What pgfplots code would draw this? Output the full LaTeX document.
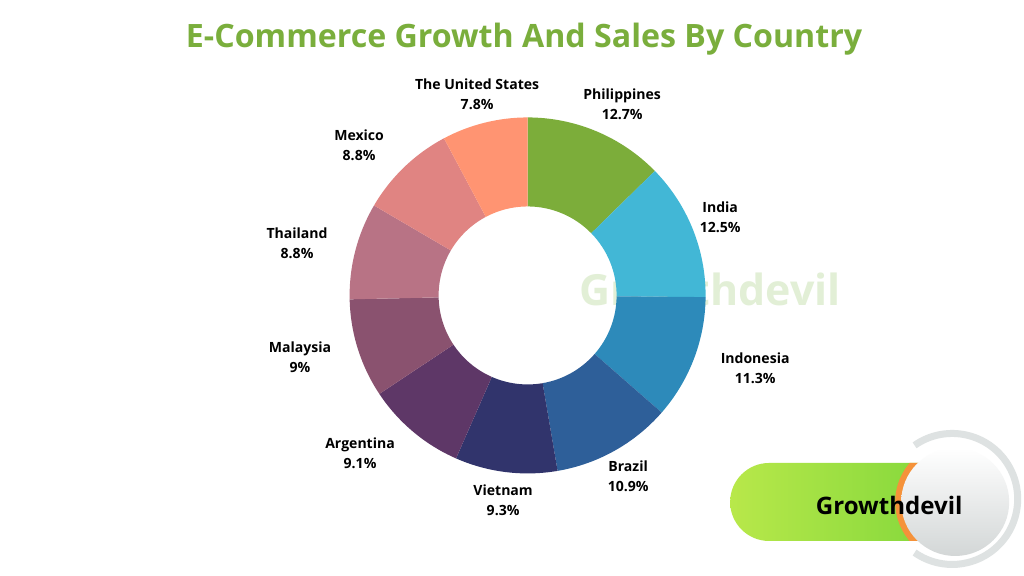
\documentclass[border=0pt]{standalone}
\usepackage{pgfplots}
\pgfplotsset{compat=1.18}
\usepackage{pgfplotstable}
\usepackage{fontspec}
\setmainfont{Open Sans}

\definecolor{slice0}{HTML}{7CAD3A}
\definecolor{slice1}{HTML}{42B7D6}
\definecolor{slice2}{HTML}{2D8ABA}
\definecolor{slice3}{HTML}{2E5F99}
\definecolor{slice4}{HTML}{31346C}
\definecolor{slice5}{HTML}{5E3767}
\definecolor{slice6}{HTML}{8A526F}
\definecolor{slice7}{HTML}{B87385}
\definecolor{slice8}{HTML}{E08482}
\definecolor{slice9}{HTML}{FF9472}
\definecolor{titlegreen}{HTML}{7AAE3C}
\definecolor{wmgreen}{HTML}{E2EFD6}
\definecolor{pillA}{HTML}{B8E84A}
\definecolor{pillB}{HTML}{7ED63A}
\definecolor{ringgrey}{HTML}{DEE2E2}
\definecolor{badgeorange}{HTML}{F5923A}

% share of e-commerce growth, clockwise from 12 o'clock
\pgfplotstableread[col sep=comma]{
country,value,lx,ly
Philippines,12.7,622,104
India,12.5,720,217
Indonesia,11.3,755,368
Brazil,10.9,628,476
Vietnam,9.3,503,500
Argentina,9.1,360,453
Malaysia,9,300,357
Thailand,8.8,297,243
Mexico,8.8,359,145
The United States,7.8,477,94
}\piedata

\tikzset{lbl/.style={align=center, inner sep=0pt,
  font=\bfseries\fontsize{8}{11.4}\selectfont}}

\begin{document}
\begin{tikzpicture}
\useasboundingbox (0,0) rectangle (20.48cm,11.52cm);
\fill[white] (0,0) rectangle (20.48cm,11.52cm);

% watermark behind the ring
\begin{scope}[x=0.02cm,y=0.02cm]
\node[wmgreen, font=\bfseries\fontsize{24.4}{30}\selectfont, inner sep=0pt]
  at (710,{576-289}) {Growthdevil};
\end{scope}

\begin{axis}[
  x=0.02cm, y=0.02cm,
  xmin=0, xmax=1024, ymin=0, ymax=576,
  enlargelimits=false,
  at={(0,0)}, anchor=south west,
  hide axis, clip=false,
]
\pgfplotstablegetrowsof{\piedata}\pgfmathtruncatemacro{\nlast}{\pgfplotsretval-1}
\def\total{0}
\pgfplotsforeachungrouped \i in {0,...,\nlast}{%
  \pgfplotstablegetelem{\i}{value}\of{\piedata}\let\val\pgfplotsretval
  \pgfmathsetmacro{\total}{\total+\val}%
}
\def\cum{0}
\pgfplotsforeachungrouped \i in {0,...,\nlast}{%
  \pgfplotstablegetelem{\i}{value}\of{\piedata}\let\val\pgfplotsretval
  \pgfplotstablegetelem{\i}{country}\of{\piedata}\let\name\pgfplotsretval
  \pgfplotstablegetelem{\i}{lx}\of{\piedata}\let\lx\pgfplotsretval
  \pgfplotstablegetelem{\i}{ly}\of{\piedata}\let\ly\pgfplotsretval
  \pgfmathsetmacro{\aa}{90-360*(\cum/\total)}%
  \pgfmathsetmacro{\cum}{\cum+\val}%
  \pgfmathsetmacro{\ab}{90-360*(\cum/\total)}%
  \pgfmathsetmacro{\lyy}{576-\ly}%
  \edef\temp{%
    \noexpand\fill[slice\i] (axis cs:527.5,280.5) ++(\aa:3.56cm)
      arc[start angle=\aa, end angle=\ab, radius=3.56cm]
      -- ++(\ab:-1.78cm)
      arc[start angle=\ab, end angle=\aa, radius=1.78cm] -- cycle;
    \noexpand\node[lbl] at (axis cs:\lx,\lyy) {\name\noexpand\\\val\noexpand\%};
  }\temp
}
\end{axis}

\begin{scope}[x=0.02cm,y=0.02cm]
% title
\node[titlegreen, font=\bfseries\fontsize{18.3}{21}\selectfont, inner sep=0pt]
  at (524,{576-39}) {E-Commerce Growth And Sales By Country};
% badge
\draw[ringgrey, line width=0.14cm] (952,77) ++(125:65.5) arc[start angle=125, end angle=-125, radius=1.31cm];
\shade[left color=pillA, right color=pillB, rounded corners=0.78cm]
  (730,35) rectangle (960,113);
\begin{scope}
\clip[rounded corners=0.78cm] (730,35) rectangle (960,113);
\fill[badgeorange] (955,74) circle[radius=1.2cm];
\end{scope}
\shade[shading angle=225, top color=white, bottom color=ringgrey!95!black]
  (955,74) circle[radius=1.08cm];
\node[font=\bfseries\fontsize{13.7}{16}\selectfont, inner sep=0pt] at (889,{576-505}) {Growthdevil};
\end{scope}
\end{tikzpicture}
\end{document}
